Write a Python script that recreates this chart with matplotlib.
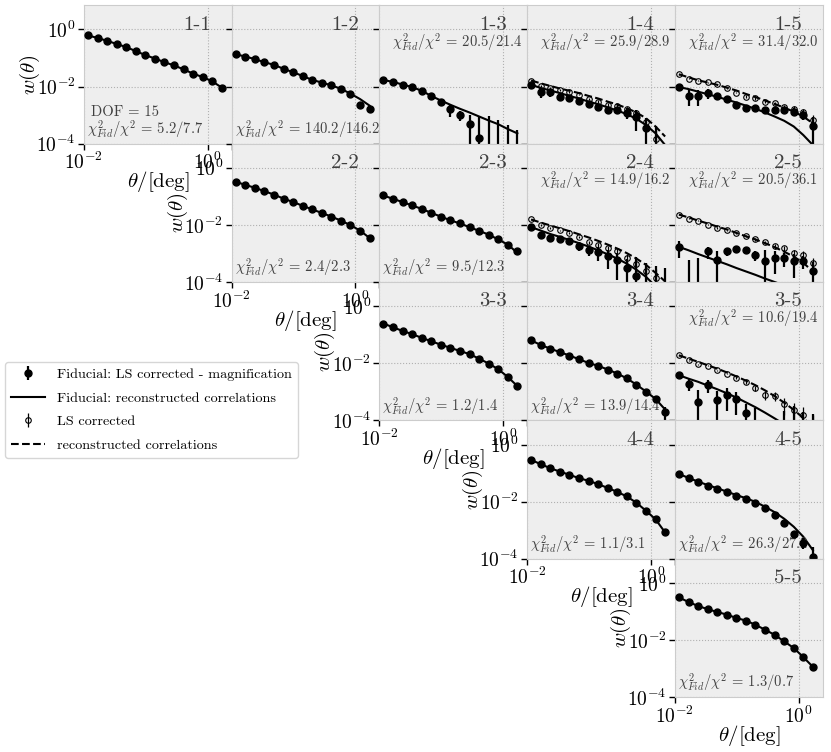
import numpy as np
import matplotlib.pyplot as plt
from matplotlib.ticker import NullLocator

plt.rcParams['font.family'] = 'serif'
plt.rcParams['font.serif'] = ['cmr10']
plt.rcParams['mathtext.fontset'] = 'cm'
plt.rcParams['axes.formatter.use_mathtext'] = True

# angular bins [deg]
theta = [0.0116, 0.0166, 0.0237, 0.0338, 0.0483, 0.0689, 0.0984, 0.1405,
         0.2006, 0.2865, 0.409, 0.584, 0.834, 1.191, 1.70]

# log10 w(theta): fiducial points (fid), fiducial model (mod),
# LS corrected points (ls), reconstructed model (lsm); errors are linear sigma
fid_11 = [-0.21, -0.30, -0.40, -0.51, -0.62, -0.76, -0.90, -1.02, -1.15, -1.26, -1.40, -1.55, -1.67, -1.82, -2.04]
mod_11 = fid_11

fid_12 = [-0.87, -0.95, -1.04, -1.15, -1.24, -1.38, -1.50, -1.63, -1.77, -1.86, -1.96, -2.08, -2.25, -2.64, -2.78]
mod_12 = [-0.87, -0.95, -1.04, -1.15, -1.24, -1.38, -1.50, -1.63, -1.77, -1.86, -1.96, -2.08, -2.25, -2.44, -2.67]
err_12 = [3e-3, 2e-3, 2e-3, 1.5e-3, 1.2e-3, 8e-4, 6e-4, 5e-4, 4e-4, 3e-4, 3e-4, 3e-4, 3e-4, 6.6e-4, 4.8e-4]

fid_13 = [-1.77, -1.84, -1.93, -2.02, -2.15, -2.33, -2.53, -2.80, -2.99, -3.32, -3.81, -5, -5, -5, -5]
mod_13 = [-1.77, -1.84, -1.93, -2.02, -2.15, -2.33, -2.49, -2.64, -2.78, -2.91, -3.05, -3.19, -3.32, -3.49, -3.64]
err_13 = [3e-4, 3e-4, 3e-4, 3e-4, 3e-4, 3e-4, 6e-4, 7e-4, 4e-4, 5.4e-4, 7.4e-4, 8.9e-4, 6.8e-4, 4.3e-4, 3.0e-4]

fid_14 = [-1.94, -2.18, -2.20, -2.35, -2.41, -2.49, -2.61, -2.70, -2.82, -2.82, -2.91, -3.05, -3.44, -5, -5]
mod_14 = [-1.94, -2.05, -2.14, -2.23, -2.33, -2.42, -2.53, -2.62, -2.73, -2.84, -2.97, -3.13, -3.35, -3.64, -4.05]
err_14 = [1.2e-3, 2.5e-3, 1.9e-3, 1.3e-3, 1.0e-3, 8e-4, 6e-4, 5e-4, 4.5e-4, 4.5e-4, 5e-4, 6.2e-4, 4.1e-4, 4e-4, 1e-5]
ls_14 = [-1.79, -1.98, -2.04, -2.13, -2.18, -2.28, -2.43, -2.53, -2.64, -2.67, -2.78, -2.91, -3.26, -3.84, -5]
lsm_14 = [-1.79, -1.89, -1.98, -2.07, -2.15, -2.23, -2.33, -2.42, -2.53, -2.63, -2.76, -2.91, -3.11, -3.40, -3.75]
lserr_14 = [1e-3, 8e-4, 7e-4, 6e-4, 5e-4, 4e-4, 3.5e-4, 3e-4, 3e-4, 3e-4, 3e-4, 3e-4, 2.5e-4, 1.6e-4, 1e-5]

fid_15 = [-2.02, -2.33, -2.33, -2.23, -2.33, -2.44, -2.64, -2.76, -2.76, -2.82, -2.82, -2.82, -2.88, -2.99, -3.40]
mod_15 = [-2.02, -2.09, -2.18, -2.27, -2.36, -2.46, -2.56, -2.67, -2.78, -2.91, -3.05, -3.20, -3.40, -3.70, -4.05]
err_15 = [1.9e-3, 2.6e-3, 2.6e-3, 2.1e-3, 1.4e-3, 9e-4, 4.6e-4, 3.5e-4, 4.3e-4, 3.8e-4, 3.8e-4, 4.5e-4, 4e-4, 3.6e-4, 4.4e-4]
ls_15 = [-1.57, -1.73, -1.79, -1.85, -1.92, -2.06, -2.21, -2.35, -2.41, -2.53, -2.58, -2.70, -2.78, -2.88, -3.17]
lsm_15 = [-1.57, -1.68, -1.78, -1.86, -1.94, -2.04, -2.14, -2.26, -2.37, -2.49, -2.61, -2.74, -2.88, -3.05, -3.29]
lserr_15 = [1.5e-3, 1e-3, 8e-4, 7e-4, 6e-4, 5e-4, 4e-4, 4e-4, 4e-4, 3.5e-4, 3.5e-4, 3.5e-4, 3.5e-4, 3.5e-4, 3e-4]

fid_22 = [-0.49, -0.60, -0.70, -0.82, -0.94, -1.08, -1.20, -1.33, -1.46, -1.58, -1.71, -1.85, -2.01, -2.20, -2.46]
mod_22 = fid_22

fid_23 = [-0.97, -1.09, -1.20, -1.32, -1.44, -1.58, -1.71, -1.84, -1.95, -2.08, -2.21, -2.34, -2.51, -2.69, -2.92]
mod_23 = [-0.97, -1.09, -1.20, -1.32, -1.44, -1.58, -1.71, -1.84, -1.95, -2.08, -2.21, -2.34, -2.51, -2.69, -2.98]

fid_24 = [-2.08, -2.34, -2.46, -2.48, -2.57, -2.73, -2.87, -2.96, -3.08, -3.24, -3.51, -3.80, -5, -5, -5]
mod_24 = [-2.08, -2.20, -2.32, -2.42, -2.53, -2.64, -2.76, -2.89, -3.03, -3.18, -3.36, -3.57, -3.82, -4.15, -4.5]
err_24 = [8e-4, 1.1e-3, 7e-4, 6.6e-4, 6.7e-4, 6.5e-4, 5.4e-4, 5.5e-4, 5.4e-4, 4.6e-4, 3.4e-4, 6.2e-4, 4.7e-4, 3.5e-4, 3.1e-4]
ls_24 = [-1.81, -2.00, -2.11, -2.19, -2.29, -2.43, -2.60, -2.69, -2.81, -2.92, -3.16, -3.37, -3.63, -3.86, -5]
lsm_24 = [-1.81, -1.92, -2.02, -2.12, -2.22, -2.33, -2.44, -2.56, -2.69, -2.83, -2.99, -3.18, -3.40, -3.68, -3.98]
lserr_24 = [8e-4, 6e-4, 5e-4, 4e-4, 3.5e-4, 3e-4, 3e-4, 3e-4, 3e-4, 3e-4, 3e-4, 2.8e-4, 2.3e-4, 1.5e-4, 1e-5]

fid_25 = [-2.77, -5, -5, -2.92, -3.22, -2.92, -2.84, -2.87, -3.04, -3.27, -3.16, -3.16, -3.27, -3.27, -3.63]
mod_25 = [-2.77, -2.89, -3.02, -3.14, -3.26, -3.38, -3.51, -3.63, -3.75, -3.88, -4.00, -4.12, -4.24, -4.37, -4.49]
err_25 = [1.0e-3, 6e-4, 7e-4, 5.4e-4, 5.7e-4, 4e-4, 4e-4, 3.5e-4, 3.5e-4, 7.8e-4, 5e-4, 3.5e-4, 4e-4, 2.5e-4, 2.5e-4]
ls_25 = [-1.64, -1.79, -1.85, -1.99, -2.11, -2.19, -2.28, -2.40, -2.51, -2.60, -2.75, -2.81, -2.98, -3.04, -3.33]
lsm_25 = [-1.64, -1.74, -1.85, -1.95, -2.06, -2.16, -2.28, -2.40, -2.51, -2.64, -2.78, -2.94, -3.11, -3.33, -3.63]
lserr_25 = [1e-3, 7e-4, 6e-4, 5e-4, 4e-4, 4e-4, 3.5e-4, 3e-4, 3e-4, 3e-4, 3e-4, 3e-4, 3e-4, 3e-4, 2.5e-4]

fid_33 = [-0.61, -0.74, -0.87, -0.98, -1.11, -1.23, -1.35, -1.46, -1.57, -1.68, -1.84, -2.01, -2.21, -2.48, -2.80]
mod_33 = fid_33

fid_34 = [-1.20, -1.36, -1.49, -1.61, -1.73, -1.86, -1.99, -2.09, -2.22, -2.36, -2.53, -2.75, -3.01, -3.26, -3.71]
mod_34 = [-1.20, -1.36, -1.49, -1.61, -1.73, -1.86, -1.99, -2.09, -2.22, -2.36, -2.53, -2.75, -2.99, -3.25, -3.62]
err_34 = [1e-3, 8e-4, 6e-4, 4e-4, 3e-4, 2e-4, 1.5e-4, 1e-4, 1e-4, 1e-4, 1e-4, 1e-4, 1e-4, 1.5e-4, 1e-4]

fid_35 = [-2.42, -2.71, -3.36, -2.77, -3.30, -3.12, -3.26, -3.73, -5, -5, -5, -5, -5, -5, -5]
mod_35 = [-2.42, -2.54, -2.65, -2.78, -2.91, -3.05, -3.20, -3.37, -3.54, -3.73, -3.93, -4.14, -4.36, -4.60, -4.84]
err_35 = [6e-4, 8.5e-4, 6.8e-4, 8e-4, 5.5e-4, 5.5e-4, 4e-4, 2e-4, 2.6e-4, 1e-5, 1e-5, 2.0e-4, 3.0e-4, 1.8e-4, 1.6e-4]
ls_35 = [-1.72, -1.89, -2.04, -2.09, -2.25, -2.36, -2.50, -2.65, -2.87, -3.10, -3.15, -3.42, -3.65, -3.82, -4.3]
lsm_35 = [-1.72, -1.84, -1.95, -2.07, -2.19, -2.32, -2.46, -2.61, -2.77, -2.95, -3.15, -3.38, -3.63, -3.92, -4.23]
lserr_35 = [8e-4, 6e-4, 5e-4, 4e-4, 3.5e-4, 3e-4, 3e-4, 3e-4, 3e-4, 2.8e-4, 2.5e-4, 2.2e-4, 1.8e-4, 1.5e-4, 1e-4]

fid_44 = [-0.54, -0.69, -0.83, -0.95, -1.06, -1.18, -1.27, -1.39, -1.52, -1.66, -1.82, -2.04, -2.32, -2.62, -3.08]
mod_44 = fid_44

fid_45 = [-1.03, -1.18, -1.33, -1.44, -1.56, -1.66, -1.80, -1.91, -2.06, -2.23, -2.47, -2.76, -3.13, -3.44, -3.93]
mod_45 = [-1.03, -1.17, -1.30, -1.42, -1.53, -1.65, -1.77, -1.88, -2.01, -2.18, -2.37, -2.60, -2.88, -3.23, -3.70]
err_45 = [2e-3, 1.5e-3, 1e-3, 8e-4, 6e-4, 4e-4, 3e-4, 2.5e-4, 2e-4, 2e-4, 2e-4, 2e-4, 2e-4, 1.5e-4, 1.5e-4]

fid_55 = [-0.51, -0.67, -0.81, -0.92, -1.02, -1.11, -1.23, -1.32, -1.47, -1.64, -1.82, -2.05, -2.28, -2.60, -2.94]
mod_55 = fid_55

# chi2 annotations
chi2 = {(1, 1): '5.2/7.7', (1, 2): '140.2/146.2', (1, 3): '20.5/21.4', (1, 4): '25.9/28.9',
        (1, 5): '31.4/32.0', (2, 2): '2.4/2.3', (2, 3): '9.5/12.3', (2, 4): '14.9/16.2',
        (2, 5): '20.5/36.1', (3, 3): '1.2/1.4', (3, 4): '13.9/14.4', (3, 5): '10.6/19.4',
        (4, 4): '1.1/3.1', (4, 5): '26.3/27.2', (5, 5): '1.3/0.7'}
chi2_top = [(1, 3), (1, 4), (1, 5), (2, 4), (2, 5), (3, 5)]
dof = 15

panels = {
    (1, 1): (fid_11, None, mod_11, None, None, None),
    (1, 2): (fid_12, err_12, mod_12, None, None, None),
    (1, 3): (fid_13, err_13, mod_13, None, None, None),
    (1, 4): (fid_14, err_14, mod_14, ls_14, lserr_14, lsm_14),
    (1, 5): (fid_15, err_15, mod_15, ls_15, lserr_15, lsm_15),
    (2, 2): (fid_22, None, mod_22, None, None, None),
    (2, 3): (fid_23, None, mod_23, None, None, None),
    (2, 4): (fid_24, err_24, mod_24, ls_24, lserr_24, lsm_24),
    (2, 5): (fid_25, err_25, mod_25, ls_25, lserr_25, lsm_25),
    (3, 3): (fid_33, None, mod_33, None, None, None),
    (3, 4): (fid_34, err_34, mod_34, None, None, None),
    (3, 5): (fid_35, err_35, mod_35, ls_35, lserr_35, lsm_35),
    (4, 4): (fid_44, None, mod_44, None, None, None),
    (4, 5): (fid_45, err_45, mod_45, None, None, None),
    (5, 5): (fid_55, None, mod_55, None, None, None),
}

txtc = '#404040'
fig, axes = plt.subplots(5, 5, figsize=(8.31, 7.52), dpi=100)
fig.subplots_adjust(left=0.101, right=0.990, top=0.993, bottom=0.073, wspace=0, hspace=0)

handles = None
for i in range(5):
    for j in range(5):
        ax = axes[i, j]
        key = (i + 1, j + 1)
        if key not in panels:
            ax.set_visible(False)
            continue
        fid, err, mod, ls, lserr, lsm = panels[key]
        ax.set_facecolor('#EEEEEE')
        ax.set_xscale('log')
        ax.set_yscale('log')
        for s in ax.spines.values():
            s.set_color('#CCCCCC')
        ax.grid(True, ls=':', color='#B0B0B0', lw=0.8)
        ax.set_axisbelow(True)

        h2, = ax.plot(theta, 10 ** np.array(mod), color='k', lw=1.5, zorder=3)
        h1 = ax.errorbar(theta, 10 ** np.array(fid), yerr=err, fmt='o', color='k',
                         ms=5, elinewidth=1.6, capsize=0, zorder=4)
        if ls is not None:
            h4, = ax.plot(theta, 10 ** np.array(lsm), color='k', lw=1.5, ls='--', zorder=2)
            h3 = ax.errorbar(theta, 10 ** np.array(ls), yerr=lserr, fmt='o', color='k',
                             mfc='none', ms=4, mew=0.8, elinewidth=0.9, capsize=0, zorder=3)
            if handles is None:
                handles = [h1, h2, h3, h4]

        ax.set_xlim(0.01, 2.45)
        ax.set_ylim(1e-4, 7)
        ax.set_xticks([1e-2, 1e0])
        ax.set_yticks([1e-4, 1e-2, 1e0])
        ax.xaxis.set_minor_locator(NullLocator())
        ax.yaxis.set_minor_locator(NullLocator())
        ax.tick_params(direction='out', length=4, width=1, labelsize=14, pad=2)

        if i == j:
            ax.set_xlabel(r'$\theta/[\mathrm{deg}]$', fontsize=15, labelpad=-3)
            ax.set_ylabel(r'$w(\theta)$', fontsize=15, labelpad=-4)
        else:
            ax.tick_params(labelleft=False, labelbottom=False)

        ax.text(0.86, 0.86, '%d-%d' % key, transform=ax.transAxes, ha='right', va='center',
                fontsize=15, color=txtc)
        s = r'$\chi^2_{Fid}/\chi^2$ = ' + chi2[key]
        if key in chi2_top:
            ax.text(0.97, 0.73, s, transform=ax.transAxes, ha='right', va='center',
                    fontsize=10.5, color=txtc)
        else:
            ax.text(0.02, 0.1, s, transform=ax.transAxes, ha='left', va='center',
                    fontsize=10.5, color=txtc)
        if key == (1, 1):
            ax.text(0.05, 0.23, 'DOF = %d' % dof, transform=ax.transAxes, ha='left',
                    va='center', fontsize=10.5, color=txtc)

fig.legend(handles, ['Fiducial: LS corrected - magnification',
                     'Fiducial: reconstructed correlations',
                     'LS corrected', 'reconstructed correlations'],
           loc='upper left', bbox_to_anchor=(0.006, 0.519), borderaxespad=0, fontsize=10.2,
           frameon=True, edgecolor='#CCCCCC', fancybox=True, borderpad=0.45,
           labelspacing=0.75, handlelength=2.4)

fig.savefig('out.png', dpi=100)
